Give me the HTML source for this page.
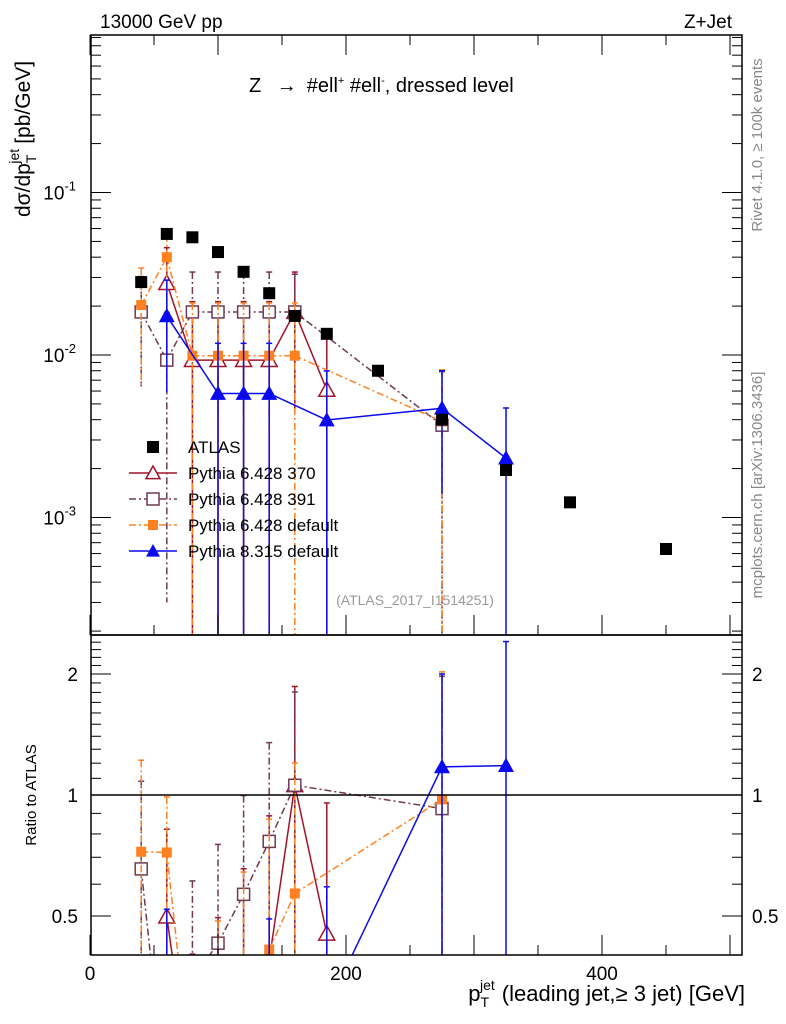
<!DOCTYPE html>
<html><head><meta charset="utf-8"><style>
body{margin:0;background:#fff;overflow:hidden}
svg{display:block;font-family:"Liberation Sans",sans-serif}
</style></head><body>
<svg id="c" width="786" height="1024" xmlns="http://www.w3.org/2000/svg">
<text x="100" y="28" font-size="19">13000 GeV pp</text>
<text x="732" y="28" font-size="19" text-anchor="end">Z+Jet</text>
<text x="249" y="92" font-size="20">Z <tspan dx="10">→</tspan><tspan dx="10">#ell</tspan><tspan font-size="11" dy="-8">+</tspan><tspan dy="8"> #ell</tspan><tspan font-size="11" dy="-8">-</tspan><tspan dy="8">, dressed level</tspan></text>
<text transform="translate(762,145) rotate(-90)" font-size="15" fill="#888" text-anchor="middle">Rivet 4.1.0, ≥ 100k events</text>
<text transform="translate(762,485) rotate(-90)" font-size="15" fill="#888" text-anchor="middle">mcplots.cern.ch [arXiv:1306.3436]</text>
<text x="415" y="605" font-size="14" fill="#999" text-anchor="middle">(ATLAS_2017_I1514251)</text>
<text transform="translate(30,217) rotate(-90)" font-size="21">dσ/dp<tspan font-size="14" dy="6">T</tspan><tspan font-size="14" dy="-17" dx="-9">jet</tspan><tspan dy="11" dx="5">[pb/GeV]</tspan></text>
<text transform="translate(36,795) rotate(-90)" font-size="15" text-anchor="middle">Ratio to ATLAS</text>
<text x="745" y="1001" font-size="22" text-anchor="end">p<tspan font-size="14" dy="6">T</tspan><tspan font-size="14" dy="-17" dx="-9">jet</tspan><tspan dy="11" dx="7">(leading jet,≥ 3 jet) [GeV]</tspan></text>
<g id="g"></g>
</svg>
<script>
const xVals=[40,60,80,100,120,140,160,185,225,275,325,375,450];
const atlas=[0.0281,0.0556,0.053,0.043,0.0325,0.024,0.0174,0.0135,0.008,0.004,0.00196,0.00124,0.00064];
const p370x=[60,80,100,120,140,160,185];
const p370=[0.0277,0.0093,0.0093,0.0093,0.0093,0.0184,0.0061];
const p370e=[0.018,0.012,0.012,0.012,0.012,0.014,0.0068];
const p391x=[40,60,80,100,120,140,160,275];
const p391=[0.0184,0.0093,0.0184,0.0184,0.0184,0.0184,0.0184,0.0037];
const p391e=[0.012,0.009,0.014,0.014,0.014,0.014,0.013,0.0042];
const p6dx=[40,60,80,100,120,140,160,275];
const p6d=[0.0203,0.04,0.0099,0.0099,0.0099,0.0099,0.0099,0.0039];
const p6de=[0.014,0.015,0.011,0.011,0.011,0.011,0.011,0.0042];
const p8x=[60,100,120,140,185,275,325];
const p8=[0.0174,0.0058,0.0058,0.0058,0.00398,0.0047,0.00232];
const p8e=[0.0115,0.006,0.006,0.006,0.004,0.0033,0.0024];
const xTicks=[0,200,400];
const yTicks=[0.001,0.01,0.1];
const rTicks=[0.5,1,2];

const NS="http://www.w3.org/2000/svg",G=document.getElementById('g');
const L=91,R=742,T=35,M=635,B=955;
const X=v=>90+v*1.28;
const Y=v=>355-Math.log10(v/0.01)*162.5;
const RY=v=>795-Math.log2(v)*121;
function el(t,a,p){const e=document.createElementNS(NS,t);for(const k in a)e.setAttribute(k,a[k]);(p||G).appendChild(e);return e;}
const defs=el('defs',{});
const c1=el('clipPath',{id:'cm'},defs);el('rect',{x:L,y:T,width:R-L,height:M-T},c1);
const c2=el('clipPath',{id:'cr'},defs);el('rect',{x:L,y:M,width:R-L,height:B-M},c2);
const gm=el('g',{'clip-path':'url(#cm)'});


const gr=el('g',{'clip-path':'url(#cr)'});


const f1=el('rect',{x:L,y:T,width:R-L,height:M-T,fill:'none',stroke:'#000','stroke-width':1.5});


const f2=el('rect',{x:L,y:M,width:R-L,height:B-M,fill:'none',stroke:'#000','stroke-width':1.5});


for(let v=0;v<=500;v+=50){const big=v%100===0,h=big?20:10;
 for(const [y0,y1] of [[M,M-h],[B,B-h],[T,T+h]]){el('line',{x1:X(v),x2:X(v),y1:y0,y2:y1,stroke:'#000','stroke-width':1});}}
xTicks.forEach(v=>{const t=el('text',{x:X(v),y:980,'font-size':19,'text-anchor':'middle'});t.textContent=v;
 
 });
for(let d=-4;d<0;d++)for(let m=1;m<10;m++){const v=m*Math.pow(10,d),y=Y(v);if(y<T||y>M)continue;const w=m===1?20:10;
 el('line',{x1:L,x2:L+w,y1:y,y2:y,stroke:'#000'});el('line',{x1:R,x2:R-w,y1:y,y2:y,stroke:'#000'});}
yTicks.forEach(v=>{const e=Math.round(Math.log10(v));const t=el('text',{x:76,y:Y(v)+7,'font-size':19,'text-anchor':'end'});
 t.innerHTML='10<tspan font-size="13" dy="-9">'+e+'</tspan>';
 
 });
[0.4,0.5,0.6,0.7,0.8,0.9,1,1.1,1.2,1.3,1.4,1.5,1.6,1.7,1.8,1.9,2,2.1,2.2,2.3,2.4,2.5].forEach(v=>{const y=RY(v);if(y<M||y>B)return;const w=rTicks.includes(v)?20:10;
 el('line',{x1:L,x2:L+w,y1:y,y2:y,stroke:'#000'});el('line',{x1:R,x2:R-w,y1:y,y2:y,stroke:'#000'});});
rTicks.forEach(v=>{for(const [x,a] of [[78,'end'],[752,'start']]){const t=el('text',{x:x,y:RY(v)+7,'font-size':19,'text-anchor':a});t.textContent=v;
 
 }});
const one=el('line',{x1:L,x2:R,y1:RY(1),y2:RY(1),stroke:'#000','stroke-width':1.5});



function marker(p,type,col,x,y,s){
 if(type==='sq'){return el('rect',{x:x-s,y:y-s,width:2*s,height:2*s,fill:col},p);}
 if(type==='osq'){return el('rect',{x:x-s+1,y:y-s+1,width:2*s-2,height:2*s-2,fill:'#fff',stroke:col,'stroke-width':1.5},p);}
 if(type==='tri'){return el('polygon',{points:`${x},${y-s} ${x-s},${y+s*0.8} ${x+s},${y+s*0.8}`,fill:col},p);}
 return el('polygon',{points:`${x},${y-s} ${x-s},${y+s*0.8} ${x+s},${y+s*0.8}`,fill:'#fff',stroke:col,'stroke-width':1.5},p);
}
const series=[
 {n:'pythia-6428-370',xs:p370x,v:p370,e:p370e,col:'#a0142a',dash:'',mk:'otri',s:8},
 {n:'pythia-6428-391',xs:p391x,v:p391,e:p391e,col:'#6e3a53',dash:'7,3,2,3',mk:'osq',s:7},
 {n:'pythia-6428-default',xs:p6dx,v:p6d,e:p6de,col:'#ff8020',dash:'7,3,2,3',mk:'sq',s:5},
 {n:'pythia-8315-default',xs:p8x,v:p8,e:p8e,col:'#0a0aee',dash:'',mk:'tri',s:8}];
function draw(p,s,fy,valF,errF,tag,ylo,yhi){
 const cl=y=>Math.max(yhi-2,Math.min(ylo+2,y));
 const g=el('g',{},p);
 
 
 const pts=[];
 s.xs.forEach((x,i)=>{const v=valF(i),e=errF(i);const px=X(x);
  const lo=v-e>0?cl(fy(v-e)):ylo+2,hi=cl(fy(v+e));
  el('line',{x1:px,x2:px,y1:hi,y2:lo,stroke:s.col,'stroke-width':1.5,'stroke-dasharray':s.dash},g);
  el('line',{x1:px-3,x2:px+3,y1:hi,y2:hi,stroke:s.col,'stroke-width':1.5},g);
  pts.push([px,fy(v)]);});
 for(let i=0;i<pts.length-1;i++){let [x1,y1]=pts[i],[x2,y2]=pts[i+1];
  const lim=ylo+2;
  if(y1>lim&&y2>lim)continue;
  if(y1>lim){x1=x1+(x2-x1)*(lim-y1)/(y2-y1);y1=lim;}
  if(y2>lim){x2=x1+(x2-x1)*(lim-y1)/(y2-y1);y2=lim;}
  el('line',{x1:x1,y1:y1,x2:x2,y2:y2,stroke:s.col,'stroke-width':1.5,'stroke-dasharray':s.dash},g);}
 s.xs.forEach((x,i)=>{const yy=fy(valF(i));if(yy>ylo+10)return;const m=marker(g,s.mk,s.col,X(x),yy,s.s);
  
  });
}
const ai=x=>atlas[xVals.indexOf(x)];
series.forEach(s=>{
 draw(gm,s,Y,i=>s.v[i],i=>s.e[i],'main',M,T);
 draw(gr,s,RY,i=>s.v[i]/ai(s.xs[i]),i=>s.e[i]/ai(s.xs[i]),'ratio',B,M);
});
xVals.forEach((x,i)=>{const m=el('rect',{x:X(x)-6,y:Y(atlas[i])-6,width:12,height:12,fill:'#000'},gm);
 
 });
const leg=el('g',{});


const items=[{t:'ATLAS',col:'#000',mk:'sq',s:6,dash:null}].concat(series.map((s,i)=>({t:['Pythia 6.428 370','Pythia 6.428 391','Pythia 6.428 default','Pythia 8.315 default'][i],col:s.col,mk:s.mk,s:s.mk==='sq'?5:7,dash:s.dash})));
items.forEach((it,i)=>{const y=447+i*26;const g=el('g',{},leg);
 
 
 if(it.dash!==null)el('line',{x1:129,x2:177,y1:y,y2:y,stroke:it.col,'stroke-width':1.5,'stroke-dasharray':it.dash},g);
 marker(g,it.mk,it.col,153,y,it.s);
 const t=el('text',{x:188,y:y+6,'font-size':17},g);t.textContent=it.t;});
</script>
</body></html>
